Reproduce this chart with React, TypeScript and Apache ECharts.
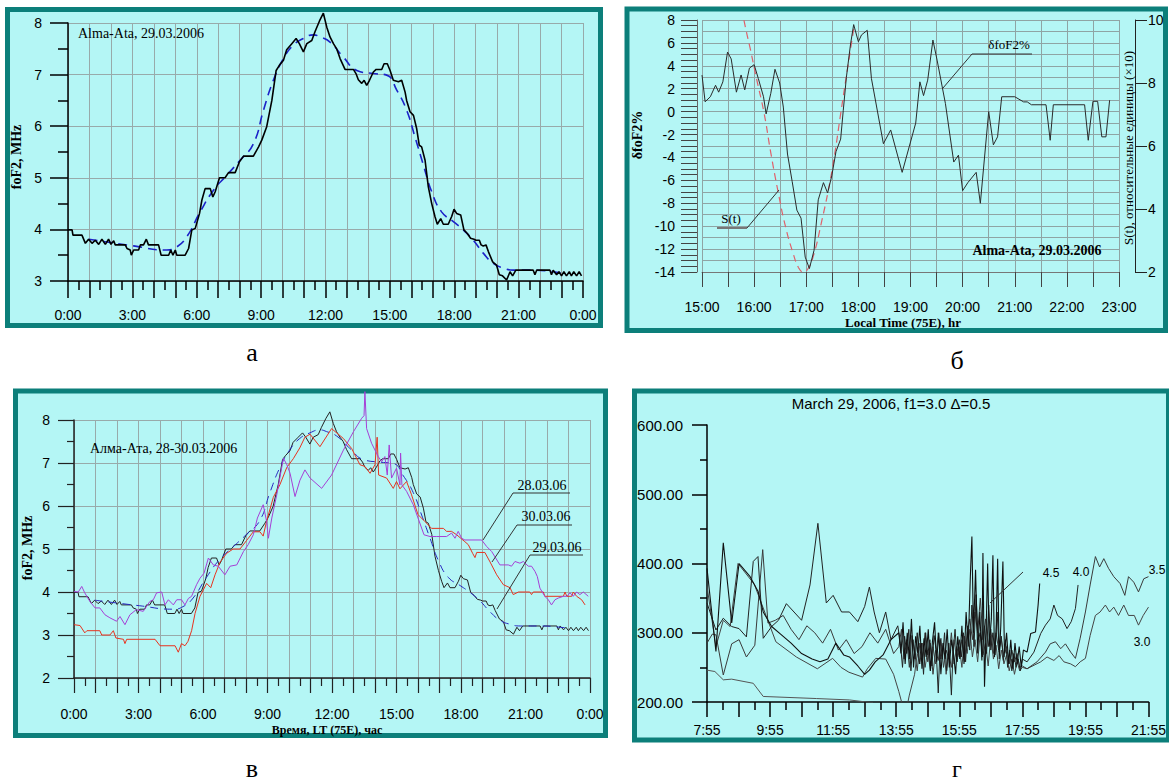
import React, { useEffect, useRef } from "react";
import * as echarts from "echarts";

const SERIF = '"Liberation Serif", "Times New Roman", serif';
const SANS = '"Liberation Sans", Arial, sans-serif';
const BG = "#b4f6f5";
const FRAME = "#0c7f7a";
const GRIDC = "#98aaaa";

// Panel a / в : foF2, 29.03.2006 (hour, MHz)
const fo29: [number, number][] = [
  [0,3.99],[0.19,3.99],[0.23,3.89],[0.65,3.89],[0.81,3.73],[0.96,3.81],[1.12,3.73],[1.27,3.79],[1.43,3.71],[1.58,3.81],[1.74,3.71],[1.89,3.81],[2.0,3.71],[2.13,3.78],[2.2,3.7],[2.67,3.7],[2.75,3.63],[2.9,3.6],[2.95,3.5],[3.06,3.6],[3.29,3.6],[3.37,3.7],[3.52,3.7],[3.65,3.81],[3.75,3.7],[4.22,3.7],[4.34,3.5],[4.69,3.5],[4.79,3.6],[4.89,3.5],[5.0,3.6],[5.07,3.5],[5.46,3.5],[5.62,3.63],[5.77,3.99],[5.93,4.02],[6.13,4.31],[6.24,4.57],[6.39,4.79],[6.63,4.79],[6.75,4.63],[6.86,4.73],[7.06,5.0],[7.32,5.0],[7.48,5.1],[7.79,5.1],[7.99,5.31],[8.18,5.42],[8.64,5.42],[8.88,5.6],[9.03,5.73],[9.26,5.99],[9.5,6.5],[9.7,7.08],[9.85,7.18],[10.04,7.28],[10.19,7.48],[10.43,7.6],[10.63,7.7],[10.78,7.6],[10.97,7.44],[11.13,7.6],[11.36,7.66],[11.51,7.83],[11.72,8.04],[11.9,8.19],[12.06,7.92],[12.21,7.73],[12.37,7.6],[12.52,7.5],[12.68,7.31],[12.91,7.1],[13.3,7.1],[13.42,7.02],[13.53,6.9],[13.69,6.83],[13.8,6.89],[13.92,6.79],[14.05,6.89],[14.23,7.05],[14.36,7.1],[14.62,7.1],[14.73,7.21],[14.88,7.21],[15.01,7.08],[15.16,6.89],[15.4,6.86],[15.55,6.89],[15.71,6.66],[15.78,6.5],[15.94,6.28],[16.1,6.21],[16.25,5.95],[16.37,5.63],[16.48,5.6],[16.64,5.34],[16.79,4.83],[16.95,4.5],[17.1,4.25],[17.21,4.1],[17.37,4.21],[17.49,4.1],[17.72,4.1],[17.88,4.25],[17.99,4.39],[18.11,4.31],[18.3,4.28],[18.45,3.99],[18.61,3.92],[18.76,3.83],[18.92,3.81],[19.01,3.79],[19.17,3.79],[19.25,3.7],[19.35,3.68],[19.48,3.7],[19.59,3.57],[19.79,3.37],[19.97,3.31],[20.1,3.12],[20.25,3.1],[20.44,3.02],[20.6,3.18],[20.72,3.1],[20.87,3.21],[21.68,3.21],[21.76,3.12],[21.84,3.21],[22.46,3.21],[22.53,3.12],[22.61,3.21],[22.77,3.12],[22.88,3.18],[23.0,3.1],[23.11,3.18],[23.23,3.1],[23.36,3.18],[23.46,3.1],[23.57,3.18],[23.7,3.1],[23.82,3.18],[23.93,3.1]
];

// smoothed 29.03 curve (blue dashed)
const fo29fit: [number, number][] = [
  [0.96,3.81],[3.06,3.68],[4.6,3.6],[5.07,3.66],[5.54,3.86],[6.16,4.34],[6.78,4.76],[7.4,5.05],[8.02,5.34],[8.64,5.66],[9.11,6.31],[9.57,6.89],[10.04,7.31],[10.5,7.57],[10.97,7.7],[11.44,7.77],[11.75,7.73],[12.21,7.63],[12.83,7.34],[13.46,7.08],[14.23,7.02],[14.85,6.99],[15.32,6.7],[15.78,6.31],[16.17,5.79],[16.56,5.25],[16.95,4.73],[17.41,4.34],[17.96,4.15],[18.42,3.99],[18.89,3.79],[19.35,3.54],[19.82,3.34],[20.28,3.25],[20.75,3.21],[21.68,3.21],[22.61,3.18],[23.08,3.15]
];

// Panel в: 30.03.06 (red) and 28.03.06 (purple)
const fo30: [number, number][] = [
  [0,3.24],[0.28,3.22],[0.5,3.05],[0.6,3.1],[1.2,3.1],[1.29,3.0],[1.67,3.0],[1.83,3.1],[1.95,2.93],[2.3,2.9],[2.37,2.8],[2.45,2.9],[3.77,2.9],[4.0,2.75],[4.7,2.75],[4.85,2.6],[5.0,2.8],[5.16,2.75],[5.3,2.85],[5.47,3.1],[5.63,3.5],[5.86,3.9],[6.17,4.2],[6.36,4.1],[6.56,4.4],[6.8,4.7],[7.1,4.9],[7.4,5.0],[7.72,5.0],[8.03,5.2],[8.34,5.4],[8.65,5.4],[8.8,5.3],[8.96,5.65],[9.27,6.2],[9.58,6.5],[9.9,6.9],[10.2,7.1],[10.5,7.35],[10.74,7.6],[10.98,7.67],[11.44,7.38],[11.98,7.8],[12.53,7.57],[12.91,7.34],[13.3,6.96],[13.53,6.92],[13.77,6.76],[14.0,6.96],[14.1,7.6],[14.17,6.72],[14.54,6.65],[14.85,6.41],[15.0,6.57],[15.16,6.4],[15.47,6.57],[15.7,6.26],[16.0,5.8],[16.32,5.64],[16.63,5.48],[17.18,5.48],[17.33,5.41],[17.56,5.41],[17.8,5.33],[18.18,5.17],[18.34,5.1],[18.54,4.9],[18.65,4.8],[18.73,4.92],[19.11,4.92],[19.35,4.7],[19.66,4.4],[19.97,4.17],[20.28,4.1],[20.43,3.94],[20.67,4.0],[21.2,4.0],[21.28,3.94],[21.36,4.0],[21.83,4.0],[21.9,3.9],[22.76,3.9],[22.84,4.0],[22.92,3.9],[23.15,3.9],[23.22,4.0],[23.38,3.9],[23.61,3.82],[23.77,3.7]
];

const fo28: [number, number][] = [
  [0,4.01],[0.2,4.0],[0.36,4.13],[0.5,3.98],[0.74,3.78],[0.98,3.63],[1.2,3.63],[1.44,3.47],[1.67,3.4],[1.98,3.32],[2.14,3.43],[2.37,3.24],[2.6,3.47],[2.9,3.59],[3.22,3.55],[3.53,3.78],[3.69,3.82],[3.84,3.98],[4.08,4.0],[4.23,3.7],[4.39,3.82],[4.62,3.7],[4.78,3.82],[5.0,3.82],[5.16,3.7],[5.32,3.85],[5.47,3.9],[5.7,4.17],[5.86,4.32],[6.05,4.44],[6.25,4.79],[6.48,4.63],[6.71,4.6],[7.02,4.4],[7.26,4.6],[7.57,4.63],[7.88,4.94],[8.1,5.1],[8.34,5.33],[8.53,5.72],[8.8,6.03],[8.96,5.64],[9.04,5.25],[9.2,5.72],[9.43,6.26],[9.74,7.11],[9.9,6.96],[10.05,6.76],[10.28,6.22],[10.51,6.6],[10.74,6.84],[10.98,6.65],[11.52,6.41],[11.98,6.72],[12.53,7.3],[13.0,7.73],[13.38,8.04],[13.49,8.1],[13.53,8.66],[13.61,7.8],[13.84,7.46],[14.15,7.15],[14.31,7.03],[14.46,7.15],[14.57,6.72],[14.66,7.42],[14.77,6.65],[15.0,6.88],[15.16,6.49],[15.19,7.23],[15.25,6.49],[15.47,6.34],[15.78,6.03],[16.0,5.72],[16.28,5.33],[16.56,5.29],[16.87,5.29],[17.33,5.29],[17.56,5.37],[17.72,5.25],[17.87,5.41],[18.03,5.25],[18.18,5.21],[18.96,5.21],[19.19,5.06],[19.43,4.94],[19.81,4.63],[20.2,4.63],[20.35,4.6],[20.51,4.71],[20.74,4.67],[20.9,4.71],[21.13,4.6],[21.28,4.6],[21.44,4.48],[21.55,4.36],[21.67,4.09],[21.9,3.9],[22.06,3.82],[22.21,3.7],[22.37,3.82],[22.53,3.86],[22.76,3.9],[22.92,3.9],[23.07,3.98],[23.22,3.9],[23.38,4.0],[23.53,3.94],[23.69,4.0],[23.92,3.9]
];

// Panel б: δfoF2 % and S(t)
const dfoF2: [number, number][] = [
  [15.0,3.19],[15.06,0.86],[15.16,1.3],[15.26,2.3],[15.32,1.7],[15.4,2.6],[15.49,5.2],[15.56,4.6],[15.66,1.7],[15.75,3.2],[15.82,1.9],[15.91,3.8],[16.0,4.1],[16.08,2.9],[16.18,1.3],[16.23,-0.2],[16.32,1.6],[16.4,3.7],[16.49,2.5],[16.56,0.4],[16.64,-3.7],[16.73,-6.1],[16.82,-8.6],[16.9,-9.3],[16.98,-12.7],[17.06,-13.7],[17.15,-12.1],[17.23,-7.7],[17.33,-6.2],[17.41,-7.1],[17.49,-5.6],[17.57,-3.5],[17.66,-2.4],[17.71,0.1],[17.77,3.0],[17.85,5.9],[17.91,7.6],[18.0,6.1],[18.06,6.7],[18.17,7.1],[18.25,2.9],[18.48,-2.8],[18.62,-1.6],[18.84,-5.3],[19.1,-1.0],[19.18,2.6],[19.25,1.4],[19.33,2.75],[19.43,6.25],[19.51,4.5],[19.67,0.7],[19.83,-4.4],[19.92,-3.8],[20.0,-6.9],[20.1,-6.2],[20.26,-5.3],[20.34,-8.0],[20.5,0.0],[20.59,-2.9],[20.67,-2.2],[20.75,1.3],[21.0,1.3],[21.17,0.85],[21.24,0.85],[21.32,0.6],[21.6,0.6],[21.68,-2.5],[21.74,0.6],[22.34,0.6],[22.41,-2.5],[22.5,0.9],[22.59,0.9],[22.67,-2.2],[22.75,-2.2],[22.82,1.0]
];

const sT: [number, number][] = [
  [15.76,9.0],[15.85,7.0],[15.92,5.6],[16.05,2.8],[16.19,-0.1],[16.32,-3.6],[16.46,-7.0],[16.6,-10.0],[16.75,-12.4],[16.85,-13.6],[16.94,-14.0],[17.02,-13.8],[17.13,-12.7],[17.3,-9.5],[17.46,-6.0],[17.56,-3.3],[17.65,-0.5],[17.8,4.0],[17.92,7.5]
];

// Panel г: minutes after 7:55, value
const g45: [number, number][] = [
  [0,393],[17,273],[31,430],[47,314],[61,400],[82,381],[97,360],[107,330],[123,309],[140,298],[160,285],[180,270],[200,262],[215,258],[230,262],[245,285],[260,268],[271,265],[287,252],[300,240],[309,246],[320,258],[335,268],[350,290],[365,300],[369,270],[373,315],[377,255],[381,300],[385,262],[389,320],[393,250],[397,295],[401,270],[405,310],[409,248],[413,292],[417,265],[421,305],[425,245],[429,288],[433,315],[437,258],[441,300],[445,240],[449,285],[453,262],[457,305],[461,250],[465,290],[469,270],[473,240],[477,295],[481,262],[485,310],[489,255],[493,330],[497,280],[501,380],[504,439],[507,300],[511,391],[515,270],[519,330],[523,260],[525,415],[528,222],[531,300],[534,400],[537,280],[541,320],[544,412],[547,265],[550,300],[553,407],[556,262],[559,310],[563,403],[566,270],[570,300],[574,255],[578,290],[582,248],[586,285],[590,255],[594,280],[598,250],[602,275],[609,272],[616,299],[625,301],[630,340],[633,371]
];
const g40: [number, number][] = [
  [0,343],[17,304],[31,321],[47,309],[61,306],[75,294],[88,403],[97,410],[107,292],[123,309],[136,318],[151,342],[180,318],[196,369],[211,458],[227,343],[240,354],[256,330],[271,330],[287,316],[300,338],[309,366],[318,330],[328,300],[340,330],[350,290],[363,310],[368,285],[372,250],[376,295],[380,270],[384,305],[388,245],[392,290],[396,262],[400,300],[404,255],[408,285],[412,240],[416,300],[420,268],[424,290],[428,252],[432,296],[436,275],[440,213],[444,290],[448,262],[452,300],[456,245],[460,285],[465,210],[468,270],[472,305],[476,258],[480,290],[484,265],[488,300],[492,258],[496,310],[500,275],[504,340],[508,280],[512,355],[516,290],[520,300],[524,265],[528,310],[532,270],[536,340],[540,275],[544,300],[548,268],[552,330],[556,272],[560,295],[564,260],[568,290],[572,250],[576,275],[580,245],[584,270],[588,250],[592,262],[596,245],[600,262],[609,258],[622,272],[635,299],[644,311],[653,320],[660,340],[667,325],[676,320],[685,306],[693,316],[701,335],[706,369]
];
const g35: [number, number][] = [
  [0,285],[10,298],[17,297],[31,239],[47,284],[61,290],[75,265],[91,282],[106,420],[116,314],[130,318],[145,325],[160,305],[175,290],[190,310],[205,300],[220,285],[235,305],[250,275],[265,290],[280,270],[295,280],[310,300],[325,285],[340,305],[355,270],[365,280],[370,305],[375,262],[380,290],[385,250],[390,296],[395,272],[400,245],[405,285],[410,265],[415,300],[420,258],[425,285],[430,240],[435,275],[440,260],[445,292],[450,250],[455,275],[460,262],[465,300],[470,255],[475,280],[480,265],[485,290],[490,258],[495,300],[500,320],[505,290],[510,330],[515,300],[520,350],[525,290],[530,320],[535,280],[540,305],[545,270],[550,300],[555,275],[560,290],[565,265],[570,280],[575,255],[580,275],[585,258],[590,270],[595,250],[600,252],[609,248],[628,258],[644,272],[653,284],[663,287],[673,277],[682,284],[692,272],[701,263],[710,292],[720,330],[729,369],[739,410],[747,395],[755,407],[764,393],[774,381],[786,371],[795,354],[802,381],[812,373],[821,359],[831,378],[840,381]
];
const g30: [number, number][] = [
  [0,367],[17,280],[31,318],[44,309],[59,400],[90,370],[131,287],[170,265],[210,248],[239,263],[255,250],[270,243],[296,236],[305,248],[321,263],[340,262],[355,240],[365,215],[372,195],[378,184],[385,210],[395,240],[400,270],[405,255],[410,285],[415,250],[420,275],[425,245],[430,280],[435,255],[440,300],[445,262],[450,285],[455,240],[460,270],[465,250],[470,290],[475,262],[480,280],[485,250],[490,295],[495,270],[500,305],[505,265],[510,290],[515,258],[520,300],[525,268],[530,285],[535,252],[540,295],[545,262],[550,282],[555,248],[560,275],[565,255],[570,268],[575,245],[580,262],[585,240],[590,258],[595,245],[600,250],[609,248],[635,258],[647,265],[660,260],[670,267],[679,258],[692,255],[701,251],[710,258],[720,263],[729,296],[739,325],[748,330],[758,340],[766,330],[774,337],[783,325],[793,340],[802,325],[813,325],[821,311],[830,325],[840,337]
];
const gLow: [number, number][] = [
  [0,246],[15,244],[31,232],[47,233],[88,227],[107,208],[208,205],[271,203],[303,200],[316,199]
];

const hourLabel = (v: number) => `${Math.round(v) % 24}:00`;
const gLabel = (v: number) => {
  const tot = 7 * 60 + 55 + v;
  const h = Math.floor(tot / 60);
  const m = tot % 60;
  return `${h}:${m < 10 ? "0" + m : m}`;
};

function txt(text: string, x: number, y: number, o: any = {}) {
  return {
    type: "text",
    x,
    y,
    rotation: o.rot || 0,
    z: 100,
    style: {
      text,
      fill: o.color || "#000",
      fontSize: o.size || 14,
      fontFamily: o.family || SERIF,
      fontWeight: o.bold ? "bold" : "normal",
      align: o.align || "center",
      verticalAlign: o.valign || "middle",
    },
  };
}
function ln(x1: number, y1: number, x2: number, y2: number, color = "#333", w = 1) {
  return { type: "line", z: 100, shape: { x1, y1, x2, y2 }, style: { stroke: color, lineWidth: w } };
}
function frame(x1: number, y1: number, x2: number, y2: number) {
  return {
    type: "rect",
    z: -10,
    shape: { x: x1, y: y1, width: x2 - x1, height: y2 - y1 },
    style: { fill: BG, stroke: FRAME, lineWidth: 5 },
  };
}

const axisLbl = (margin: number, formatter: any, size = 14) => ({
  show: true,
  margin,
  formatter,
  fontSize: size,
  fontFamily: SANS,
  color: "#000",
  showMinLabel: true,
  showMaxLabel: true,
});

const line = (x: number, y: number, data: any, color: string, width: number, extra: any = {}) => ({
  type: "line",
  xAxisIndex: x,
  yAxisIndex: y,
  data,
  symbol: "none",
  showSymbol: false,
  lineStyle: { color, width, ...(extra.lineStyle || {}) },
  clip: extra.clip !== undefined ? extra.clip : true,
  smooth: extra.smooth || false,
  silent: true,
  z: extra.z || 2,
});

const option: any = {
  animation: false,
  backgroundColor: "#ffffff",
  grid: [
    { left: 68, top: 23, width: 515, height: 258 },
    { left: 702, top: 20, width: 417, height: 252 },
    { left: 74, top: 420, width: 516, height: 258 },
    { left: 707, top: 425, width: 443, height: 277 },
  ],
  xAxis: [
    {
      type: "value", gridIndex: 0, min: 0, max: 24, interval: 1,
      axisLine: { show: true, onZero: false, lineStyle: { color: "#000", width: 1.5 } },
      axisTick: { show: true, length: 17, lineStyle: { color: "#000", width: 1.5 } },
      minorTick: { show: true, splitNumber: 2, length: 9, lineStyle: { color: "#000", width: 1.5 } },
      splitLine: { show: true, lineStyle: { color: GRIDC, width: 1 } },
      axisLabel: axisLbl(27, (v: number) => (v % 3 === 0 ? hourLabel(v) : "")),
    },
    {
      type: "value", gridIndex: 1, min: 15, max: 23, interval: 0.5,
      axisLine: { show: true, onZero: false, lineStyle: { color: "#777", width: 1 } },
      axisTick: { show: true, length: 15, lineStyle: { color: "#444", width: 1 } },
      splitLine: { show: true, lineStyle: { color: "#8fa4a4", width: 1 } },
      axisLabel: axisLbl(28, (v: number) => (Number.isInteger(v) ? hourLabel(v) : "")),
    },
    {
      type: "value", gridIndex: 2, min: 0, max: 24, interval: 1,
      axisLine: { show: true, onZero: false, lineStyle: { color: "#222", width: 1.5 } },
      axisTick: { show: true, length: 15, lineStyle: { color: "#222", width: 1.2 } },
      minorTick: { show: true, splitNumber: 2, length: 8, lineStyle: { color: "#222", width: 1.2 } },
      splitLine: { show: true, lineStyle: { color: GRIDC, width: 1 } },
      axisLabel: axisLbl(29, (v: number) => (v % 3 === 0 ? hourLabel(v) : "")),
    },
    {
      type: "value", gridIndex: 3, min: 0, max: 840, interval: 60,
      axisLine: { show: true, onZero: false, lineStyle: { color: "#000", width: 1.5 } },
      axisTick: { show: true, length: 15, lineStyle: { color: "#000", width: 1.5 } },
      minorTick: { show: true, splitNumber: 2, length: 8, lineStyle: { color: "#000", width: 1.5 } },
      splitLine: { show: false },
      axisLabel: axisLbl(21, (v: number) => (v % 120 === 0 ? gLabel(v) : "")),
    },
  ],
  yAxis: [
    {
      type: "value", gridIndex: 0, min: 3, max: 8, interval: 1,
      axisLine: { show: true, onZero: false, lineStyle: { color: "#000", width: 1.5 } },
      axisTick: { show: true, length: 18, lineStyle: { color: "#000", width: 1.5 } },
      minorTick: { show: true, splitNumber: 2, length: 10, lineStyle: { color: "#000", width: 1.5 } },
      splitLine: { show: true, lineStyle: { color: GRIDC, width: 1 } },
      axisLabel: axisLbl(26, (v: number) => String(v)),
    },
    {
      type: "value", gridIndex: 1, min: -14, max: 8, interval: 1, offset: 5,
      axisLine: { show: true, onZero: false, lineStyle: { color: "#666", width: 1 } },
      axisTick: { show: true, length: 16, lineStyle: { color: "#444", width: 1 } },
      minorTick: { show: true, splitNumber: 2, length: 16, lineStyle: { color: "#444", width: 1 } },
      splitLine: { show: true, lineStyle: { color: "#8fa4a4", width: 1 } },
      axisLabel: axisLbl(22, (v: number) => (Math.round(v) % 2 === 0 ? String(Math.round(v)) : "")),
    },
    {
      type: "value", gridIndex: 1, position: "right", min: 2, max: 10, interval: 2, offset: 16,
      axisLine: { show: true, onZero: false, lineStyle: { color: "#222", width: 1 } },
      axisTick: { show: true, length: 12, lineStyle: { color: "#222", width: 1 } },
      splitLine: { show: false },
      axisLabel: axisLbl(13, (v: number) => String(v)),
    },
    {
      type: "value", gridIndex: 2, min: 2, max: 8, interval: 1,
      axisLine: { show: true, onZero: false, lineStyle: { color: "#222", width: 1.5 } },
      axisTick: { show: true, length: 16, lineStyle: { color: "#222", width: 1.2 } },
      minorTick: { show: true, splitNumber: 2, length: 7, lineStyle: { color: "#222", width: 1.2 } },
      splitLine: { show: true, lineStyle: { color: GRIDC, width: 1 } },
      axisLabel: axisLbl(24, (v: number) => String(v)),
    },
    {
      type: "value", gridIndex: 3, min: 200, max: 600, interval: 100,
      axisLine: { show: true, onZero: false, lineStyle: { color: "#000", width: 1.5 } },
      axisTick: { show: true, length: 15, lineStyle: { color: "#000", width: 1.5 } },
      minorTick: { show: true, splitNumber: 2, length: 7, lineStyle: { color: "#000", width: 1.5 } },
      splitLine: { show: false },
      axisLabel: axisLbl(24, (v: number) => v.toFixed(2), 15),
    },
  ],
  series: [
    line(0, 0, fo29fit, "#1c22c8", 1.6, { smooth: true, lineStyle: { type: [9, 6] } }),
    line(0, 0, fo29, "#000000", 1.6, { clip: false, z: 3 }),

    line(1, 1, sT, "#e0606a", 1.2, { smooth: true, lineStyle: { type: [7, 5] } }),
    line(1, 1, dfoF2, "#2a2a2a", 1, { z: 3 }),

    line(2, 3, fo29, "#222222", 1, { clip: false }),
    line(2, 3, fo29fit, "#2828c0", 1, { smooth: true, lineStyle: { type: [8, 6] } }),
    line(2, 3, fo30, "#e8321e", 1, {}),
    line(2, 3, fo28, "#a640d6", 1, { clip: false }),

    line(3, 4, gLow, "#555555", 1, {}),
    line(3, 4, g30, "#444444", 1, {}),
    line(3, 4, g35, "#3a3a3a", 1, {}),
    line(3, 4, g40, "#222222", 1, {}),
    line(3, 4, g45, "#111111", 1.1, {}),
  ],
  graphic: {
    elements: [
      frame(7.5, 9.5, 600.5, 325.5),
      frame(627, 9, 1165.5, 330.5),
      frame(15.5, 391, 605.5, 735.5),
      frame(634.5, 391, 1168.5, 740),

      // panel a
      txt("Alma-Ata, 29.03.2006", 78, 33, { align: "left" }),
      txt("foF2, MHz", 16, 157, { rot: Math.PI / 2, bold: true }),
      txt("а", 252, 352, { size: 26 }),

      // panel б
      txt("δfoF2%", 637, 135, { rot: Math.PI / 2, bold: true }),
      txt("S(t), относительные единицы (×10)", 1128, 148, { rot: Math.PI / 2, size: 13 }),
      txt("Local Time (75E), hr", 903, 322, { bold: true, size: 13 }),
      txt("Alma-Ata, 29.03.2006", 1037, 250, { bold: true }),
      txt("δfoF2%", 1009, 44, { size: 13 }),
      ln(972, 54, 1032, 54, "#333", 1),
      ln(972, 54, 943, 88, "#333", 1),
      txt("S(t)", 731, 218, { size: 13 }),
      ln(717, 228, 747, 228, "#777", 2),
      ln(747, 228, 779, 190, "#333", 1),
      txt("б", 957, 360, { size: 26 }),

      // panel в
      txt("Алма-Ата, 28-30.03.2006", 90, 448, { align: "left" }),
      txt("foF2, MHz", 27, 548, { rot: Math.PI / 2, bold: true }),
      txt("Время, LT (75E), час", 327, 730, { bold: true, size: 12 }),
      txt("28.03.06", 542, 485),
      ln(513, 493, 570, 493),
      ln(513, 493, 483, 540),
      txt("30.03.06", 546, 516),
      ln(517, 525, 572, 525),
      ln(517, 525, 492, 562),
      txt("29.03.06", 557, 547),
      ln(530, 555, 583, 555),
      ln(530, 555, 497, 609),
      txt("в", 252, 768, { size: 26 }),

      // panel г
      txt("March 29, 2006, f1=3.0 Δ=0.5", 891, 403, { family: SANS, size: 15 }),
      txt("4.5", 1051, 573, { family: SANS, size: 12 }),
      txt("4.0", 1081, 572, { family: SANS, size: 12 }),
      txt("3.5", 1157, 570, { family: SANS, size: 12 }),
      txt("3.0", 1142, 642, { family: SANS, size: 12 }),
      ln(990, 603, 1023, 572, "#333", 1),
      txt("г", 957, 781, { size: 24, valign: "bottom" }),
    ],
  },
};

export default function App() {
  const ref = useRef<HTMLDivElement>(null);
  useEffect(() => {
    if (!ref.current) return;
    const chart = echarts.init(ref.current, null, { renderer: "svg" });
    chart.setOption(option);
    return () => chart.dispose();
  }, []);
  return (
    <div
      ref={ref}
      style={{ position: "absolute", left: 0, top: 0, width: 1169, height: 783, background: "#fff" }}
    />
  );
}
